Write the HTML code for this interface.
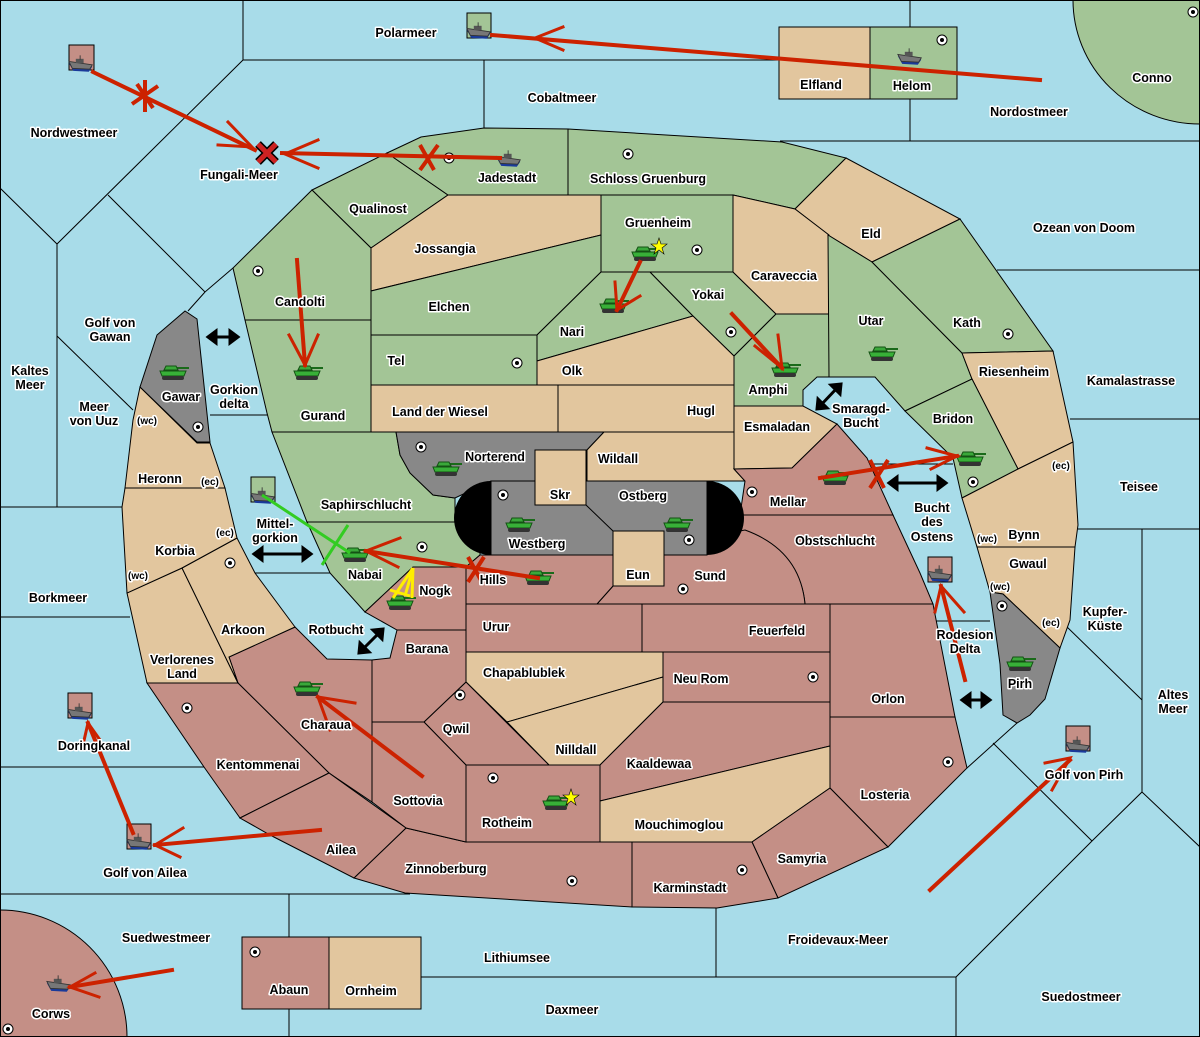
<!DOCTYPE html>
<html><head><meta charset="utf-8"><style>
html,body{margin:0;padding:0;background:#a8dce9;width:1200px;height:1037px;overflow:hidden;position:relative}
svg{display:block;position:absolute;left:0;top:0}
text{font-family:"Liberation Sans",sans-serif;font-weight:bold;font-size:12.5px;fill:#000;stroke:#fff;stroke-width:3px;paint-order:stroke;stroke-linejoin:round;text-anchor:middle}
.g{fill:#a3c596}.t{fill:#e2c69e}.b{fill:#c48f86}.y{fill:#888}
.g,.t,.b,.y{stroke:#000;stroke-width:1}
.sl{stroke:#000;stroke-width:1;fill:none}
.ra{stroke:#cc2200;stroke-width:4;fill:none;stroke-linecap:square}
.rh{stroke:#cc2200;stroke-width:3;fill:none}
</style></head><body>
<svg width="1200" height="1037" viewBox="0 0 1200 1037" xmlns="http://www.w3.org/2000/svg" overflow="hidden">
<defs>
<symbol id="tk" viewBox="0 0 32 18">
<rect x="17" y="3" width="14" height="2" fill="#1a6a1a"/>
<path d="M8 2 h10 l2 4 h-14z" fill="#3aa83a" stroke="#145214" stroke-width="1"/>
<path d="M2 7 h26 l-2 5 h-22z" fill="#38b038" stroke="#145214" stroke-width="1"/>
<rect x="4" y="12" width="22" height="4" rx="2" fill="#333"/>
</symbol>
<symbol id="sh" viewBox="0 0 30 20">
<path d="M1 9 L28 13 L24 19 L6 18 Z" fill="#1a3a9a"/>
<path d="M1 7 L28 11 L25 16 L5 15 Z" fill="#777" stroke="#333" stroke-width="1"/>
<rect x="9" y="4" width="9" height="5" fill="#555"/>
<line x1="14" y1="0" x2="14" y2="5" stroke="#333" stroke-width="1"/>
</symbol>
<symbol id="sc" viewBox="0 0 12 12">
<circle cx="6" cy="6" r="5" fill="#fff" stroke="#000" stroke-width="1"/>
<circle cx="6" cy="6" r="2" fill="#000"/>
</symbol>
</defs>
<rect x="0" y="0" width="1200" height="1037" fill="#a8dce9"/>

<g class="sl">
<path d="M243 0V60H779M484 60V128M910 0V27M910 99V141M780 141H1200"/>
<path d="M243 60L57 244L0 188M57 244V507M108 195L205 292L233 268M188 311L205 292M57 336L133 410"/>
<path d="M0 507H122M0 617H130M0 767H207M0 894H410M289 894V937M289 1009V1037"/>
<path d="M421 977H956M716 908V977M956 977V1037M956 977L1092 841L1142 792L1200 847M1142 529V792M1065 625L1142 700M993 743L1092 841M967 768L1017 723"/>
<path d="M1078 529H1200M1070 419H1200M997 270H1200"/>
<path d="M933 621H990M867 464H953M210 415H268M255 573H330"/>
</g>

<ellipse class="g" cx="1200" cy="0" rx="127" ry="124"/>
<circle class="b" cx="0" cy="1037" r="127"/>
<rect class="t" x="779" y="27" width="91" height="72"/>
<rect class="g" x="870" y="27" width="87" height="72"/>
<rect class="b" x="242" y="937" width="87" height="72"/>
<rect class="t" x="329" y="937" width="92" height="72"/>

<polygon class="g" points="312,190 387,153 448,195 371,248"/>
<polygon class="g" points="387,153 421,137 484,128 568,129 568,195 448,195"/>
<polygon class="g" points="568,129 782,142 846,158 795,209 733,195 568,195"/>
<polygon class="t" points="846,158 960,219 872,262 828,235 795,209"/>
<polygon class="t" points="448,195 601,195 601,235 371,291 371,248"/>
<polygon class="g" points="312,190 371,248 371,320 245,320 233,268"/>
<polygon class="g" points="245,320 371,320 371,432 272,432 267,413"/>
<polygon class="g" points="371,291 601,235 601,272 537,335 371,335"/>
<polygon class="g" points="371,335 537,335 537,385 371,385"/>
<polygon class="g" points="601,195 733,195 733,272 601,272"/>
<polygon class="g" points="601,272 650,272 693,316 537,361 537,335"/>
<polygon class="g" points="650,272 733,272 776,314 734,356 693,316"/>
<polygon class="t" points="733,195 795,209 829,235 829,314 776,314 733,272"/>
<polygon class="t" points="537,361 693,316 734,356 734,385 537,385"/>
<polygon class="g" points="734,356 776,314 829,314 829,377 817,377 803,390 803,406 734,406"/>
<polygon class="t" points="371,385 558,385 558,432 371,432"/>
<polygon class="t" points="558,385 734,385 734,432 558,432"/>
<polygon class="t" points="734,406 803,406 837,424 792,468 734,469"/>
<polygon class="g" points="828,235 872,262 962,353 972,379 905,411 875,377 829,377"/>
<polygon class="g" points="872,262 960,219 1053,351 962,353"/>
<polygon class="t" points="962,353 1053,351 1073,442 1018,469 972,379"/>
<polygon class="g" points="905,411 972,379 1018,469 962,498 953,458"/>
<polygon class="t" points="962,498 1018,469 1073,442 1078,525 1075,547 977,547"/>
<polygon class="t" points="977,547 1075,547 1070,620 1060,648 1003,594 990,592"/>
<polygon class="y" points="990,592 1003,594 1060,648 1045,699 1030,715 1017,723 1003,715 1000,664"/>
<polygon class="g" points="272,432 396,432 400,455 410,473 433,495 455,498 455,522 307,522"/>
<polygon class="g" points="307,522 480,522 480,555 466,567 413,567 365,612 330,573"/>
<polygon class="y" points="396,432 604,432 587,450 535,450 535,481 491,481 455,498 433,495 410,473 400,455"/>
<polygon class="t" points="604,432 734,432 734,469 745,481 587,481 587,450"/>
<polygon class="b" points="734,469 792,468 837,424 867,458 893,515 740,515 745,481"/>
<path class="b" d="M740 515H893L920 573L933 604H805Q800 550 740 537Z"/>
<path class="b" d="M613 555L745 530Q800 550 805 604H597L613 586Z"/>
<polygon class="b" points="480,555 613,555 613,586 597,604 466,604 466,567"/>
<polygon class="b" points="365,612 413,567 466,567 466,630 397,630"/>
<polygon class="b" points="466,604 642,604 642,652 466,652"/>
<polygon class="b" points="642,604 830,604 830,652 642,652"/>
<polygon class="b" points="830,604 933,604 955,717 830,717"/>
<polygon class="b" points="663,652 830,652 830,702 663,702"/>
<polygon class="t" points="466,652 663,652 663,677 507,722 466,682"/>
<polygon class="t" points="507,722 663,677 663,702 600,765 549,765"/>
<polygon class="b" points="424,722 466,682 549,765 466,765"/>
<polygon class="b" points="397,630 466,630 466,682 424,722 372,722 372,660 390,658"/>
<polygon class="b" points="600,765 663,702 830,702 830,746 600,801"/>
<polygon class="t" points="600,801 830,746 830,788 752,842 600,842"/>
<polygon class="b" points="830,717 955,717 967,768 888,847 830,788"/>
<polygon class="b" points="752,842 830,788 888,847 778,898"/>
<polygon class="b" points="632,842 752,842 778,898 717,908 632,907"/>
<polygon class="b" points="466,765 600,765 600,842 466,842"/>
<polygon class="b" points="406,828 466,842 632,842 632,907 405,893 354,878"/>
<polygon class="b" points="372,722 424,722 466,765 466,842 406,828 372,802"/>
<polygon class="b" points="238,683 229,657 295,627 327,659 372,660 372,802 329,773"/>
<polygon class="b" points="147,683 238,683 329,773 240,818 204,767"/>
<polygon class="b" points="240,818 329,773 406,828 354,878 270,835"/>
<polygon class="t" points="127,593 182,568 238,683 147,683"/>
<polygon class="t" points="182,568 237,538 255,573 295,627 229,657 238,683"/>
<polygon class="t" points="125,488 225,488 237,538 182,568 127,593 122,507"/>
<polygon class="t" points="140,387 197,443 210,443 225,488 125,488 133,420"/>
<polygon class="y" points="157,335 185,311 197,319 210,442 197,442 140,387"/>
<rect class="y" x="491" y="481" width="216" height="74"/>
<path d="M491 481 A37 37 0 0 0 491 555Z" fill="#000"/>
<path d="M707 481 A37 37 0 0 1 707 555Z" fill="#000"/>
<path class="sl" d="M586 505L613 531"/>
<rect class="t" x="535" y="450" width="51" height="55"/>
<rect class="t" x="613" y="531" width="51" height="55"/>
<rect x="0.5" y="0.5" width="1199" height="1036" fill="none" stroke="#000"/>

<rect class="g" x="467" y="13" width="24" height="25"/>
<rect class="b" x="69" y="45" width="25" height="25"/>
<rect class="g" x="251" y="477" width="24" height="25"/>
<rect class="b" x="928" y="557" width="24" height="25"/>
<rect class="b" x="68" y="693" width="24" height="25"/>
<rect class="b" x="127" y="824" width="24" height="25"/>
<rect class="b" x="1066" y="726" width="24" height="25"/>

<g>
<use href="#sc" x="443" y="152" width="12" height="12"/><use href="#sc" x="622" y="148" width="12" height="12"/>
<use href="#sc" x="691" y="244" width="12" height="12"/><use href="#sc" x="252" y="265" width="12" height="12"/>
<use href="#sc" x="1002" y="328" width="12" height="12"/><use href="#sc" x="725" y="326" width="12" height="12"/>
<use href="#sc" x="511" y="357" width="12" height="12"/><use href="#sc" x="192" y="421" width="12" height="12"/>
<use href="#sc" x="415" y="441" width="12" height="12"/><use href="#sc" x="416" y="541" width="12" height="12"/>
<use href="#sc" x="497" y="489" width="12" height="12"/><use href="#sc" x="683" y="534" width="12" height="12"/>
<use href="#sc" x="746" y="486" width="12" height="12"/><use href="#sc" x="967" y="476" width="12" height="12"/>
<use href="#sc" x="224" y="557" width="12" height="12"/><use href="#sc" x="677" y="583" width="12" height="12"/>
<use href="#sc" x="996" y="600" width="12" height="12"/><use href="#sc" x="807" y="671" width="12" height="12"/>
<use href="#sc" x="454" y="689" width="12" height="12"/><use href="#sc" x="181" y="702" width="12" height="12"/>
<use href="#sc" x="942" y="756" width="12" height="12"/><use href="#sc" x="487" y="772" width="12" height="12"/>
<use href="#sc" x="736" y="864" width="12" height="12"/><use href="#sc" x="566" y="875" width="12" height="12"/>
<use href="#sc" x="249" y="946" width="12" height="12"/><use href="#sc" x="2" y="1023" width="12" height="12"/>
<use href="#sc" x="936" y="34" width="12" height="12"/><use href="#sc" x="1187" y="6" width="12" height="12"/>
</g>

<g>
<use href="#tk" x="630" y="245" width="32" height="18"/><use href="#tk" x="598" y="297" width="32" height="18"/>
<use href="#tk" x="770" y="361" width="32" height="18"/><use href="#tk" x="867" y="345" width="32" height="18"/>
<use href="#tk" x="292" y="364" width="32" height="18"/><use href="#tk" x="158" y="364" width="32" height="18"/>
<use href="#tk" x="431" y="460" width="32" height="18"/><use href="#tk" x="504" y="516" width="32" height="18"/>
<use href="#tk" x="662" y="516" width="32" height="18"/><use href="#tk" x="955" y="450" width="32" height="18"/>
<use href="#tk" x="820" y="469" width="32" height="18"/><use href="#tk" x="340" y="546" width="32" height="18"/>
<use href="#tk" x="523" y="569" width="32" height="18"/><use href="#tk" x="385" y="594" width="32" height="18"/>
<use href="#tk" x="1005" y="655" width="32" height="18"/><use href="#tk" x="292" y="680" width="32" height="18"/>
<use href="#tk" x="541" y="794" width="32" height="18"/>
</g>
<g>
<use href="#sh" x="466" y="22" width="26" height="18"/><use href="#sh" x="68" y="55" width="26" height="18"/>
<use href="#sh" x="496" y="150" width="26" height="18"/><use href="#sh" x="897" y="48" width="26" height="18"/>
<use href="#sh" x="250" y="487" width="26" height="18"/><use href="#sh" x="927" y="565" width="26" height="18"/>
<use href="#sh" x="67" y="703" width="26" height="18"/><use href="#sh" x="126" y="833" width="26" height="18"/>
<use href="#sh" x="1065" y="736" width="26" height="18"/><use href="#sh" x="46" y="975" width="26" height="18"/>
</g>

<polygon points="659,238 661,244 667,244 662,248 664,254 659,250 654,254 656,248 651,244 657,244" fill="#ff0" stroke="#000" stroke-width=".6"/>
<polygon points="571,789 573,795 579,795 574,799 576,805 571,801 566,805 568,799 563,795 569,795" fill="#ff0" stroke="#000" stroke-width=".6"/>

<g class="ra">
<path d="M1040 80L492 35"/><path d="M563 27L535 38L563 50" class="rh"/>
<path d="M93 72L255 150"/><path d="M228 122L252 147L218 145" class="rh"/>
<path d="M500 158L282 153"/><path d="M318 140L285 154L318 168" class="rh"/>
<path d="M297 260L305 365"/><path d="M289 335L305 365L318 335" class="rh"/>
<path d="M640 262L617 310"/><path d="M615 282L617 310L640 296" class="rh"/>
<path d="M732 314L782 368"/><path d="M755 346L782 368L778 335" class="rh"/>
<path d="M422 776L318 697"/><path d="M355 703L318 697L330 730" class="rh"/>
<path d="M538 578L366 551"/><path d="M400 538L366 551L398 567" class="rh"/>
<path d="M820 478L957 456"/><path d="M927 448L957 456L931 469" class="rh"/>
<path d="M965 680L941 586"/><path d="M935 612L941 586L964 612" class="rh"/>
<path d="M320 830L155 845"/><path d="M183 828L155 845L180 857" class="rh"/>
<path d="M133 833L88 723"/><path d="M83 745L88 723L100 740" class="rh"/>
<path d="M172 970L70 987"/><path d="M95 973L70 987L99 997" class="rh"/>
<path d="M930 890L1070 760"/><path d="M1045 763L1070 758L1052 790" class="rh"/>
</g>
<g stroke="#cc2200" stroke-width="4">
<path d="M137 84L153 108M158 86L132 104M145 80V112"/>
<path d="M420 145L434 170M438 145L420 170"/>
<path d="M468 557L482 582M484 557L468 582"/>
<path d="M870 460L884 488M888 460L870 488"/>
</g>
<path d="M258 144L276 162M276 144L258 162" stroke="#000" stroke-width="8"/>
<path d="M258 144L276 162M276 144L258 162" stroke="#cc2222" stroke-width="5"/>
<path d="M262 495L350 553M322 565L348 525" stroke="#33cc22" stroke-width="3" fill="none"/>
<path d="M413 568L405 596M413 568L393 598M413 568L412 598M390 590L410 596" stroke="#ffee00" stroke-width="3" fill="none"/>
<g stroke="#000" stroke-width="3" fill="#000">
<line x1="212" y1="337" x2="234" y2="337"/><polygon points="208,337 216,331 216,343"/><polygon points="238,337 230,331 230,343"/>
<line x1="259" y1="554" x2="306" y2="554"/><polygon points="254,554 262,548 262,560"/><polygon points="311,554 303,548 303,560"/>
<line x1="362" y1="650" x2="380" y2="632"/><polygon points="359,653 360,643 369,652"/><polygon points="383,629 382,639 373,630"/>
<line x1="820" y1="406" x2="838" y2="387"/><polygon points="817,409 818,399 827,408"/><polygon points="841,384 840,394 831,385"/>
<line x1="894" y1="483" x2="941" y2="483"/><polygon points="889,483 897,477 897,489"/><polygon points="946,483 938,477 938,489"/>
<line x1="966" y1="700" x2="986" y2="700"/><polygon points="962,700 970,694 970,706"/><polygon points="990,700 982,694 982,706"/>
</g>

<text x="406" y="37">Polarmeer</text><text x="562" y="102">Cobaltmeer</text>
<text x="821" y="89">Elfland</text><text x="912" y="90">Helom</text>
<text x="1152" y="82">Conno</text><text x="1029" y="116">Nordostmeer</text>
<text x="74" y="137">Nordwestmeer</text><text x="239" y="179">Fungali-Meer</text>
<text x="507" y="182">Jadestadt</text><text x="648" y="183">Schloss Gruenburg</text>
<text x="378" y="213">Qualinost</text><text x="658" y="227">Gruenheim</text>
<text x="871" y="238">Eld</text><text x="1084" y="232">Ozean von Doom</text>
<text x="445" y="253">Jossangia</text><text x="784" y="280">Caraveccia</text>
<text x="708" y="299">Yokai</text><text x="300" y="306">Candolti</text>
<text x="449" y="311">Elchen</text>
<text x="110" y="327">Golf von</text><text x="110" y="341">Gawan</text>
<text x="871" y="325">Utar</text><text x="967" y="327">Kath</text>
<text x="572" y="336">Nari</text><text x="396" y="365">Tel</text><text x="572" y="375">Olk</text>
<text x="30" y="375">Kaltes</text><text x="30" y="389">Meer</text>
<text x="1014" y="376">Riesenheim</text><text x="1131" y="385">Kamalastrasse</text>
<text x="768" y="394">Amphi</text><text x="181" y="401">Gawar</text>
<text x="234" y="394">Gorkion</text><text x="234" y="408">delta</text>
<text x="94" y="411">Meer</text><text x="94" y="425">von Uuz</text>
<text x="147" y="424" style="font-size:10px">(wc)</text>
<text x="861" y="413">Smaragd-</text><text x="861" y="427">Bucht</text>
<text x="440" y="416">Land der Wiesel</text><text x="701" y="415">Hugl</text>
<text x="323" y="420">Gurand</text><text x="953" y="423">Bridon</text>
<text x="777" y="431">Esmaladan</text><text x="495" y="461">Norterend</text>
<text x="618" y="463">Wildall</text><text x="160" y="483">Heronn</text>
<text x="210" y="485" style="font-size:10px">(ec)</text><text x="1061" y="469" style="font-size:10px">(ec)</text>
<text x="1139" y="491">Teisee</text><text x="560" y="499">Skr</text>
<text x="643" y="500">Ostberg</text><text x="788" y="506">Mellar</text>
<text x="366" y="509">Saphirschlucht</text>
<text x="275" y="528">Mittel-</text><text x="275" y="542">gorkion</text>
<text x="932" y="512">Bucht</text><text x="932" y="526">des</text><text x="932" y="541">Ostens</text>
<text x="225" y="536" style="font-size:10px">(ec)</text><text x="1024" y="539">Bynn</text>
<text x="987" y="542" style="font-size:10px">(wc)</text><text x="537" y="548">Westberg</text>
<text x="835" y="545">Obstschlucht</text><text x="175" y="555">Korbia</text>
<text x="365" y="579">Nabai</text><text x="138" y="579" style="font-size:10px">(wc)</text>
<text x="638" y="579">Eun</text><text x="710" y="580">Sund</text>
<text x="493" y="584">Hills</text><text x="435" y="595">Nogk</text>
<text x="1028" y="568">Gwaul</text><text x="1000" y="590" style="font-size:10px">(wc)</text>
<text x="58" y="602">Borkmeer</text>
<text x="1105" y="616">Kupfer-</text><text x="1105" y="630">Küste</text>
<text x="1051" y="626" style="font-size:10px">(ec)</text>
<text x="496" y="631">Urur</text><text x="777" y="635">Feuerfeld</text>
<text x="336" y="634">Rotbucht</text><text x="243" y="634">Arkoon</text>
<text x="965" y="639">Rodesion</text><text x="965" y="653">Delta</text>
<text x="427" y="653">Barana</text>
<text x="182" y="664">Verlorenes</text><text x="182" y="678">Land</text>
<text x="524" y="677">Chapablublek</text><text x="701" y="683">Neu Rom</text>
<text x="1020" y="688">Pirh</text><text x="888" y="703">Orlon</text>
<text x="1173" y="699">Altes</text><text x="1173" y="713">Meer</text>
<text x="326" y="729">Charaua</text><text x="456" y="733">Qwil</text>
<text x="94" y="750">Doringkanal</text><text x="576" y="754">Nilldall</text>
<text x="659" y="768">Kaaldewaa</text><text x="258" y="769">Kentommenai</text>
<text x="1084" y="779">Golf von Pirh</text><text x="885" y="799">Losteria</text>
<text x="418" y="805">Sottovia</text><text x="507" y="827">Rotheim</text>
<text x="679" y="829">Mouchimoglou</text><text x="341" y="854">Ailea</text>
<text x="802" y="863">Samyria</text><text x="446" y="873">Zinnoberburg</text>
<text x="145" y="877">Golf von Ailea</text><text x="690" y="892">Karminstadt</text>
<text x="166" y="942">Suedwestmeer</text><text x="838" y="944">Froidevaux-Meer</text>
<text x="517" y="962">Lithiumsee</text><text x="289" y="994">Abaun</text>
<text x="371" y="995">Ornheim</text><text x="572" y="1014">Daxmeer</text>
<text x="1081" y="1001">Suedostmeer</text><text x="51" y="1018">Corws</text>
</svg>
</body></html>
